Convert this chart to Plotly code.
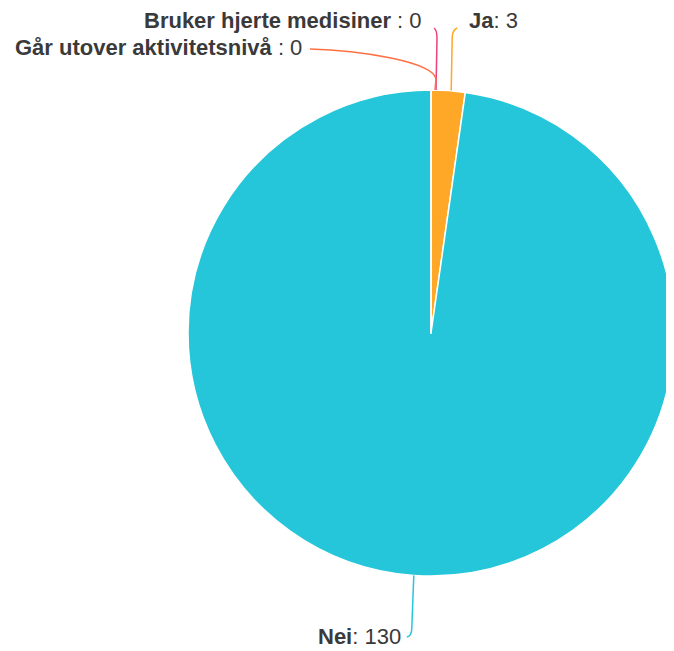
import math
import plotly.graph_objects as go

# ---- data ----
labels = ["Ja", "Nei", "Bruker hjerte medisiner ", "Går utover aktivitetsnivå "]
values = [3, 130, 0, 0]
colors = ["#FFA726", "#26C6DA", "#EC407A", "#FF7043"]

OFF = 8                      # default page body margin
W, H = 674 - OFF, 651 - OFF  # figure size so it fits in the window
# pie geometry in screen pixels
cx, cy, r = 431, 333, 243
fx, fy = cx - OFF, cy - OFF  # in figure pixels
dom_x = [(fx - r) / W, 1.0]
dom_y = [(H - fy - r) / H, (H - fy + r) / H]

fig = go.Figure()
fig.add_trace(go.Pie(
    labels=labels, values=values, sort=False, direction="clockwise", rotation=0,
    marker=dict(colors=colors, line=dict(color="white", width=1.5)),
    textinfo="none", hoverinfo="label+value", showlegend=False,
    domain=dict(x=dom_x, y=dom_y),
))

total = sum(values)
mids = []
acc = 0
for v in values:
    mids.append((acc + v / 2) / total * 2 * math.pi)
    acc += v

def edge(a, rr=r):
    return fx + rr * math.sin(a), fy - rr * math.cos(a)

# label placement (screen pixels): x, y, anchor
label_pos = [
    (467, 20, "left"),
    (403, 636, "right"),
    (424, 20, "right"),
    (304, 47, "right"),
]

shapes = []
annotations = []
for i, (lab, val, col) in enumerate(zip(labels, values, colors)):
    sx, sy = edge(mids[i] if val > 0 else 0.0)
    lx, ly, anc = label_pos[i]
    lx, ly = lx - OFF, ly - OFF
    if i == 0:  # Ja: up then hook right
        path = f"M{sx+3:.1f},{sy:.1f} L{sx+4:.1f},{ly+18} Q{sx+4:.1f},{ly+10} {sx+9:.1f},{ly+8}"
    elif i == 1:  # Nei: down then hook left
        path = f"M{sx:.1f},{sy:.1f} L{sx-2:.1f},{ly-8} Q{sx-2:.1f},{ly} {sx-7:.1f},{ly+1}"
    elif i == 2:  # Bruker: up then hook left
        path = f"M{sx+5:.1f},{sy:.1f} L{sx+6:.1f},{ly+18} Q{sx+6:.1f},{ly+10} {sx+3:.1f},{ly+8}"
    else:  # Går: up then sweep left
        path = (f"M{sx+4:.1f},{sy:.1f} L{sx+5:.1f},{ly+32} Q{sx+3:.1f},{ly+20} {sx-40:.1f},{ly+11} "
                f"Q{sx-80:.1f},{ly+3} {lx+6},{ly+2}")
    shapes.append(dict(type="path", path=path, xref="x", yref="y",
                       line=dict(color=col, width=1.5), layer="above"))
    annotations.append(dict(
        x=lx, y=ly, xref="x", yref="y", xanchor=anc, yanchor="middle",
        text=f"<b>{lab}</b>: {val}", showarrow=False,
        font=dict(family="Liberation Sans, Arial, sans-serif", size=22, color="#3a3a3a"),
    ))

fig.update_layout(
    width=W, height=H, margin=dict(l=0, r=0, t=0, b=0),
    paper_bgcolor="white", plot_bgcolor="rgba(0,0,0,0)",
    xaxis=dict(range=[0, W], visible=False, fixedrange=True),
    yaxis=dict(range=[H, 0], visible=False, fixedrange=True),
    shapes=shapes, annotations=annotations,
)
fig.write_html("out.html")
